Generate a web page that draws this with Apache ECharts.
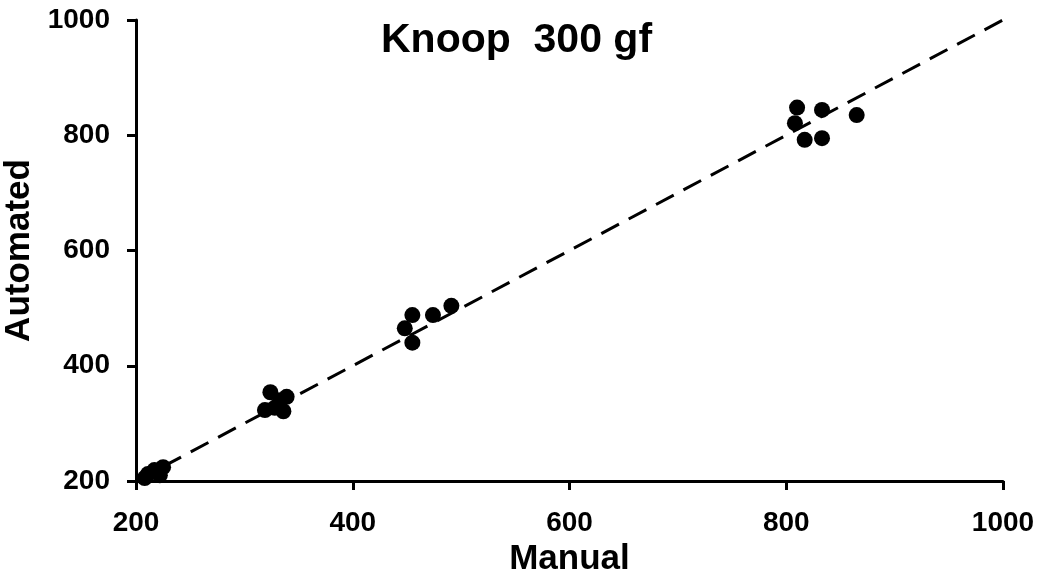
<!DOCTYPE html>
<html>
<head>
<meta charset="utf-8">
<script src="https://cdn.jsdelivr.net/npm/echarts@6/dist/echarts.min.js"></script>
<style>html,body{margin:0;padding:0;background:#fff}#c{width:1043px;height:579px}</style>
</head>
<body>
<div id="c"></div>
<script>
var titleText = 'Knoop  300 gf';
var xName = 'Manual';
var yName = 'Automated';
var manual = [208, 211, 217, 222, 225, 319, 324, 328, 333, 336, 339, 448, 455, 455, 474, 491, 810, 808, 817, 833, 833, 865];
var automated = [205, 212, 219, 210, 224, 323, 354, 327, 340, 321, 346, 465, 488, 440, 488, 504, 848, 821, 792, 844, 795, 835];
var fitX = [200, 1000];
var fitY = [200, 1000];
var xTicks = [200, 400, 600, 800, 1000];
var yTicks = [200, 400, 600, 800, 1000];

var pts = manual.map(function (v, i) { return [v, automated[i]]; });
var fit = fitX.map(function (v, i) { return [v, fitY[i]]; });
var font = 'Liberation Sans, Arial, sans-serif';
var chart = echarts.init(document.getElementById('c'));
chart.setOption({
  animation: false,
  backgroundColor: '#fff',
  title: {
    text: titleText, left: 376, top: 15,
    textStyle: { fontFamily: font, fontWeight: 'bold', fontSize: 41, color: '#000' }
  },
  grid: { left: 136, right: 40, top: 20, bottom: 98, containLabel: false, outerBoundsMode: 'none' },
  xAxis: {
    type: 'value', min: 200, max: 1000, interval: 200,
    name: xName, nameLocation: 'middle', nameGap: 58,
    nameTextStyle: { fontFamily: font, fontWeight: 'bold', fontSize: 35, color: '#000' },
    axisLine: { show: true, onZero: false, lineStyle: { color: '#000', width: 3 } },
    axisTick: { show: true, length: 9, lineStyle: { color: '#000', width: 3 } },
    axisLabel: { margin: 28, fontFamily: font, fontWeight: 'bold', fontSize: 28, color: '#000',
      formatter: function (v) { return xTicks.indexOf(v) >= 0 ? String(v) : ''; } },
    splitLine: { show: false }
  },
  yAxis: {
    type: 'value', min: 200, max: 1000, interval: 200,
    name: yName, nameLocation: 'middle', nameGap: 89,
    nameTextStyle: { fontFamily: font, fontWeight: 'bold', fontSize: 35, color: '#000' },
    axisLine: { show: true, onZero: false, lineStyle: { color: '#000', width: 3 } },
    axisTick: { show: true, length: 9, lineStyle: { color: '#000', width: 3 } },
    axisLabel: { margin: 26, fontFamily: font, fontWeight: 'bold', fontSize: 28, color: '#000',
      formatter: function (v) { return yTicks.indexOf(v) >= 0 ? String(v) : ''; } },
    splitLine: { show: false }
  },
  series: [
    {
      type: 'line', data: fit, symbol: 'none', silent: true, z: 3,
      lineStyle: { color: '#000', width: 3, type: [20, 11] }
    },
    {
      type: 'scatter', data: pts, symbol: 'circle', symbolSize: 16, z: 2,
      itemStyle: { color: '#000', opacity: 1 }
    }
  ]
});
</script>
</body>
</html>
